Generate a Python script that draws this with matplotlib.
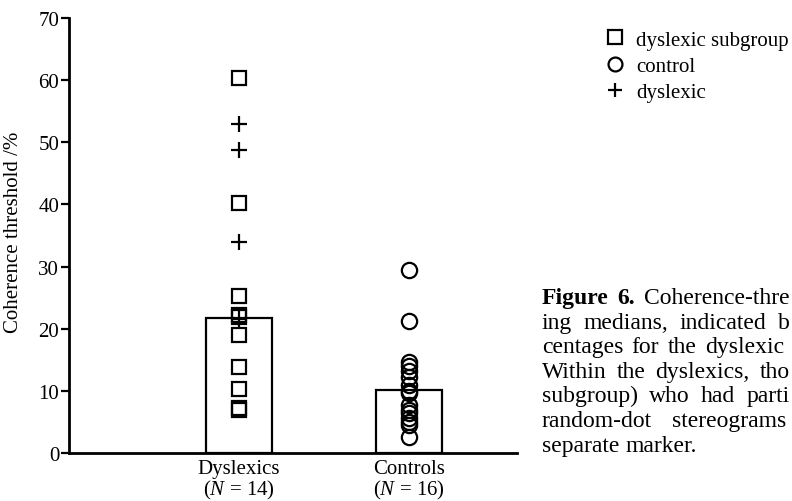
import matplotlib
matplotlib.use("Agg")
import matplotlib.pyplot as plt
from matplotlib.lines import Line2D

plt.rcParams['font.family'] = ['Liberation Serif', 'DejaVu Serif']
plt.rcParams['mathtext.fontset'] = 'custom'
plt.rcParams['mathtext.rm'] = 'Liberation Serif'
plt.rcParams['mathtext.it'] = 'Liberation Serif:italic'

# ---- data ----
groups = ["Dyslexics", "Controls"]
group_n = [14, 16]
medians = [21.8, 10.2]
dyslexic_subgroup = [60.3, 40.2, 25.2, 22.2, 21.9, 19.0, 13.9, 10.3, 7.3, 7.0]
dyslexic_other = [53.0, 48.7, 33.9, 21.6]
controls = [29.5, 21.2, 14.7, 14.0, 13.2, 12.3, 11.0, 10.0, 9.6, 7.8, 7.0,
            6.5, 5.6, 5.0, 4.5, 2.5]
yticks = [0, 10, 20, 30, 40, 50, 60, 70]
legend_labels = ["dyslexic subgroup", "control", "dyslexic"]
caption_lines = [
    [("Figure", "bold"), ("6.", "bold"), ("Coherence-thre", "normal")],
    "ing medians, indicated b",
    "centages for the dyslexic",
    "Within the dyslexics, tho",
    "subgroup) who had parti",
    "random-dot stereograms",
    "separate marker.",
]
caption_right = [790, 790, 784, 790, 790, 786, None]

W, H = 792, 502
fig = plt.figure(figsize=(W / 100, H / 100), dpi=100)
ax = fig.add_axes([69 / W, 48 / H, 448 / W, 435 / H])

pos = [1, 2]
ax.bar(pos, medians, width=0.385, facecolor='white', edgecolor='black',
       linewidth=1.6, zorder=1)

ax.plot([pos[0]] * len(dyslexic_subgroup), dyslexic_subgroup, linestyle='none',
        marker='s', markersize=10.5, markerfacecolor='none',
        markeredgecolor='black', markeredgewidth=1.6, zorder=3)
ax.plot([pos[0]] * len(dyslexic_other), dyslexic_other, linestyle='none',
        marker='+', markersize=11, markeredgecolor='black',
        markeredgewidth=1.6, zorder=3)
ax.plot([pos[1]] * len(controls), controls, linestyle='none',
        marker='o', markersize=11, markerfacecolor='none',
        markeredgecolor='black', markeredgewidth=1.6, zorder=3)

ax.set_xlim(0, 2.635)
ax.set_ylim(0, 70)
ax.set_yticks(yticks)
ax.set_yticklabels([str(t) for t in yticks], fontsize=15)
ax.tick_params(axis='y', direction='out', length=6, width=1.6, pad=1)
ax.set_xticks(pos)
ax.set_xticklabels([f"{g}\n($\\mathit{{N}}$ = {n})" for g, n in zip(groups, group_n)],
                   fontsize=15, linespacing=1.05)
ax.tick_params(axis='x', length=0, pad=4)
for s in ['top', 'right']:
    ax.spines[s].set_visible(False)
for s in ['left', 'bottom']:
    ax.spines[s].set_linewidth(2.0)
ax.set_ylabel("Coherence threshold /%", fontsize=15)
ax.yaxis.set_label_coords(-0.103, 0.51)

handles = [
    Line2D([], [], linestyle='none', marker='s', markersize=10,
           markerfacecolor='none', markeredgecolor='black', markeredgewidth=1.6),
    Line2D([], [], linestyle='none', marker='o', markersize=10,
           markerfacecolor='none', markeredgecolor='black', markeredgewidth=1.6),
    Line2D([], [], linestyle='none', marker='+', markersize=10,
           markeredgecolor='black', markeredgewidth=1.6),
]
fig.legend(handles, legend_labels, loc='upper left',
           bbox_to_anchor=(606 / W, 1 - 31 / H), frameon=False, fontsize=15,
           handlelength=0.9, handletextpad=0.55, labelspacing=0.32,
           borderpad=0, borderaxespad=0)

# ---- caption (justified lines, cut at the figure edge as in the source) ----
x0 = 542
fs_cap = 17
y_base = [304, 328.6, 353.2, 377.8, 402.4, 427, 451.6]
renderer = fig.canvas.get_renderer()
for line, yb, xr in zip(caption_lines, y_base, caption_right):
    if isinstance(line, str):
        words = [(w, "normal") for w in line.split(" ")]
    else:
        words = line
    texts = []
    widths = []
    for w, weight in words:
        t = fig.text(0, 1 - yb / H, w, fontsize=fs_cap, fontweight=weight,
                     va='baseline', ha='left')
        texts.append(t)
        widths.append(t.get_window_extent(renderer).width)
    space = 0.25 * fs_cap * 100 / 72
    if xr is None or len(words) < 2:
        gap = space
    else:
        gap = max(space * 0.8, (xr - x0 - sum(widths)) / (len(words) - 1))
    x = x0
    for t, wd in zip(texts, widths):
        t.set_x(x / W)
        x += wd + gap

fig.savefig("out.png", dpi=100)
